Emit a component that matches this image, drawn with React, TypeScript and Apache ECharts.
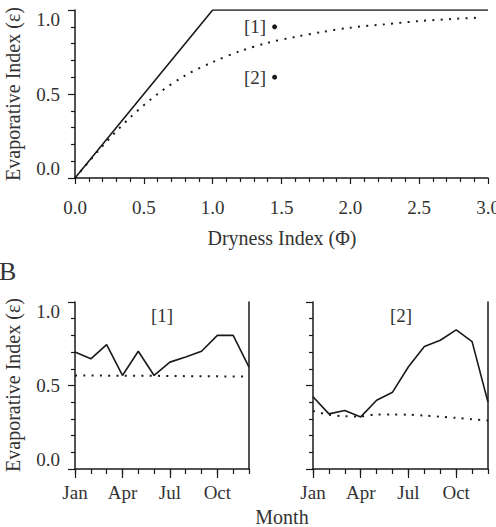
import React, { useEffect, useRef } from "react";
import * as echarts from "echarts";

// Panel A: evaporative index against dryness index
const DRYNESS = [0, 0.2, 0.4, 0.6, 0.8, 1.0, 1.2, 1.4, 1.6, 1.8, 2.0, 2.25, 2.5, 2.75, 2.95];
const EVAP_CURVE = [0, 0.19, 0.36, 0.5, 0.61, 0.69, 0.755, 0.805, 0.84, 0.87, 0.895, 0.915, 0.934, 0.947, 0.955];
const LIMIT_X = [0, 1, 3];
const LIMIT_Y = [0, 1, 1];
const SITE_NAMES = ["[1]", "[2]"];
const SITE_PHI = [1.45, 1.45];
const SITE_EPS = [0.9, 0.6];

// Panel B: monthly evaporative index at the two sites
const MONTHS = ["Jan", "Feb", "Mar", "Apr", "May", "Jun", "Jul", "Aug", "Sep", "Oct", "Nov", "Dec"];
const SITE1_ACTUAL = [0.7, 0.66, 0.745, 0.56, 0.705, 0.56, 0.64, 0.67, 0.705, 0.8, 0.8, 0.61];
const SITE1_CURVE = [0.56, 0.56, 0.559, 0.559, 0.558, 0.558, 0.557, 0.556, 0.556, 0.555, 0.554, 0.553];
const SITE2_ACTUAL = [0.433, 0.33, 0.35, 0.312, 0.412, 0.46, 0.612, 0.734, 0.771, 0.833, 0.763, 0.4];
const SITE2_CURVE = [0.348, 0.325, 0.316, 0.315, 0.327, 0.327, 0.325, 0.32, 0.313, 0.306, 0.298, 0.29];

const INK = "#1a1a1a";
const TEXT = "#333";
const FONT = "Liberation Serif";
const FS = 19;
const NAME_FS = 20;

const dotted = { color: INK, width: 2, type: [2, 6.3] as number[], cap: "butt" as const };
const solid = { color: INK, width: 1.6 };

function valueYAxis(gridIndex: number, showLabels: boolean) {
  return {
    type: "value",
    gridIndex,
    min: 0,
    max: 1,
    interval: 0.5,
    axisLine: { show: true, lineStyle: { color: INK, width: 1.5 } },
    axisTick: { show: true, length: 7, lineStyle: { color: INK, width: 1.2 } },
    minorTick: { show: true, splitNumber: 5, length: 4, lineStyle: { color: INK, width: 1.2 } },
    splitLine: { show: false },
    minorSplitLine: { show: false },
    axisLabel: {
      show: showLabels,
      margin: 15,
      color: TEXT,
      fontFamily: FONT,
      fontSize: FS,
      formatter: (v: number) => v.toFixed(1),
      verticalAlignMinLabel: "bottom",
      verticalAlignMaxLabel: "top",
    },
  };
}

function frameYAxis(gridIndex: number) {
  return {
    type: "value",
    gridIndex,
    position: "right",
    min: 0,
    max: 1,
    axisLine: { show: true, lineStyle: { color: INK, width: 1.5 } },
    axisTick: { show: false },
    axisLabel: { show: false },
    splitLine: { show: false },
  };
}

function monthAxes(gridIndex: number) {
  return [
    {
      type: "category",
      gridIndex,
      position: "bottom",
      data: MONTHS,
      boundaryGap: false,
      axisLine: { show: true, lineStyle: { color: INK, width: 1.5 } },
      axisTick: { show: true, interval: 0, length: 5, lineStyle: { color: INK, width: 1.2 } },
      axisLabel: { show: false },
      splitLine: { show: false },
    },
    {
      type: "category",
      gridIndex,
      position: "bottom",
      data: MONTHS,
      boundaryGap: false,
      axisLine: { show: false },
      axisTick: { show: true, interval: 2, length: 9, lineStyle: { color: INK, width: 1.2 } },
      axisLabel: { show: true, interval: 2, margin: 14, color: TEXT, fontFamily: FONT, fontSize: FS },
      splitLine: { show: false },
    },
  ];
}

function textEl(text: string, x: number, y: number, extra: Record<string, unknown> = {}, size = NAME_FS, align = "center") {
  return {
    type: "text",
    x,
    y,
    ...extra,
    style: { text, font: `${size}px "${FONT}"`, fill: TEXT, align, verticalAlign: "middle" },
  };
}

export default function App() {
  const ref = useRef<HTMLDivElement>(null);

  useEffect(() => {
    if (!ref.current) return;
    const chart = echarts.init(ref.current, undefined, { renderer: "svg" });

    const pair = (xs: (number | string)[], ys: number[]) => xs.map((x, i) => [x, ys[i]]);

    chart.setOption({
      animation: false,
      backgroundColor: "#fff",
      grid: [
        { left: 75, top: 10, width: 413, height: 168, outerBoundsMode: "none", containLabel: false },
        { left: 75, top: 302, width: 174, height: 167, outerBoundsMode: "none", containLabel: false },
        { left: 313, top: 302, width: 175, height: 167, outerBoundsMode: "none", containLabel: false },
      ],
      xAxis: [
        {
          type: "value",
          gridIndex: 0,
          min: 0,
          max: 3,
          interval: 0.5,
          axisLine: { show: true, onZero: false, lineStyle: { color: INK, width: 1.5 } },
          axisTick: { show: true, length: 6, lineStyle: { color: INK, width: 1.2 } },
          minorTick: { show: true, splitNumber: 5, length: 4, lineStyle: { color: INK, width: 1.2 } },
          splitLine: { show: false },
          minorSplitLine: { show: false },
          axisLabel: {
            margin: 20,
            color: TEXT,
            fontFamily: FONT,
            fontSize: FS,
            formatter: (v: number) => v.toFixed(1),
          },
        },
        ...monthAxes(1),
        ...monthAxes(2),
      ],
      yAxis: [valueYAxis(0, true), valueYAxis(1, true), frameYAxis(1), valueYAxis(2, false), frameYAxis(2)],
      series: [
        {
          type: "line",
          xAxisIndex: 0,
          yAxisIndex: 0,
          data: pair(LIMIT_X, LIMIT_Y),
          showSymbol: false,
          lineStyle: solid,
        },
        {
          type: "line",
          xAxisIndex: 0,
          yAxisIndex: 0,
          data: pair(DRYNESS, EVAP_CURVE),
          showSymbol: false,
          smooth: 0.3,
          lineStyle: dotted,
        },
        {
          type: "scatter",
          xAxisIndex: 0,
          yAxisIndex: 0,
          data: SITE_NAMES.map((n, i) => ({ name: n, value: [SITE_PHI[i], SITE_EPS[i]] })),
          symbolSize: 5,
          itemStyle: { color: INK, opacity: 1 },
          label: {
            show: true,
            position: "left",
            distance: 6,
            formatter: "{b}",
            color: TEXT,
            fontFamily: FONT,
            fontSize: FS,
          },
        },
        {
          type: "line",
          xAxisIndex: 1,
          yAxisIndex: 1,
          data: SITE1_ACTUAL,
          showSymbol: false,
          lineStyle: solid,
        },
        {
          type: "line",
          xAxisIndex: 1,
          yAxisIndex: 1,
          data: SITE1_CURVE,
          showSymbol: false,
          lineStyle: dotted,
        },
        {
          type: "line",
          xAxisIndex: 3,
          yAxisIndex: 3,
          data: SITE2_ACTUAL,
          showSymbol: false,
          lineStyle: solid,
        },
        {
          type: "line",
          xAxisIndex: 3,
          yAxisIndex: 3,
          data: SITE2_CURVE,
          showSymbol: false,
          smooth: 0.3,
          lineStyle: dotted,
        },
      ],
      graphic: [
        textEl("Evaporative Index (ε)", 13, 94, { rotation: Math.PI / 2 }),
        textEl("Dryness Index (Φ)", 282, 238),
        textEl("B", -1, 271, {}, 26, "left"),
        textEl("[1]", 162, 315, {}, FS),
        textEl("[2]", 401, 315, {}, FS),
        textEl("Evaporative Index (ε)", 13, 385, { rotation: Math.PI / 2 }),
        textEl("Month", 282, 517),
      ],
    });

    return () => chart.dispose();
  }, []);

  return (
    <div
      ref={ref}
      style={{ position: "fixed", left: 0, top: 0, width: 496, height: 527, background: "#fff" }}
    />
  );
}
